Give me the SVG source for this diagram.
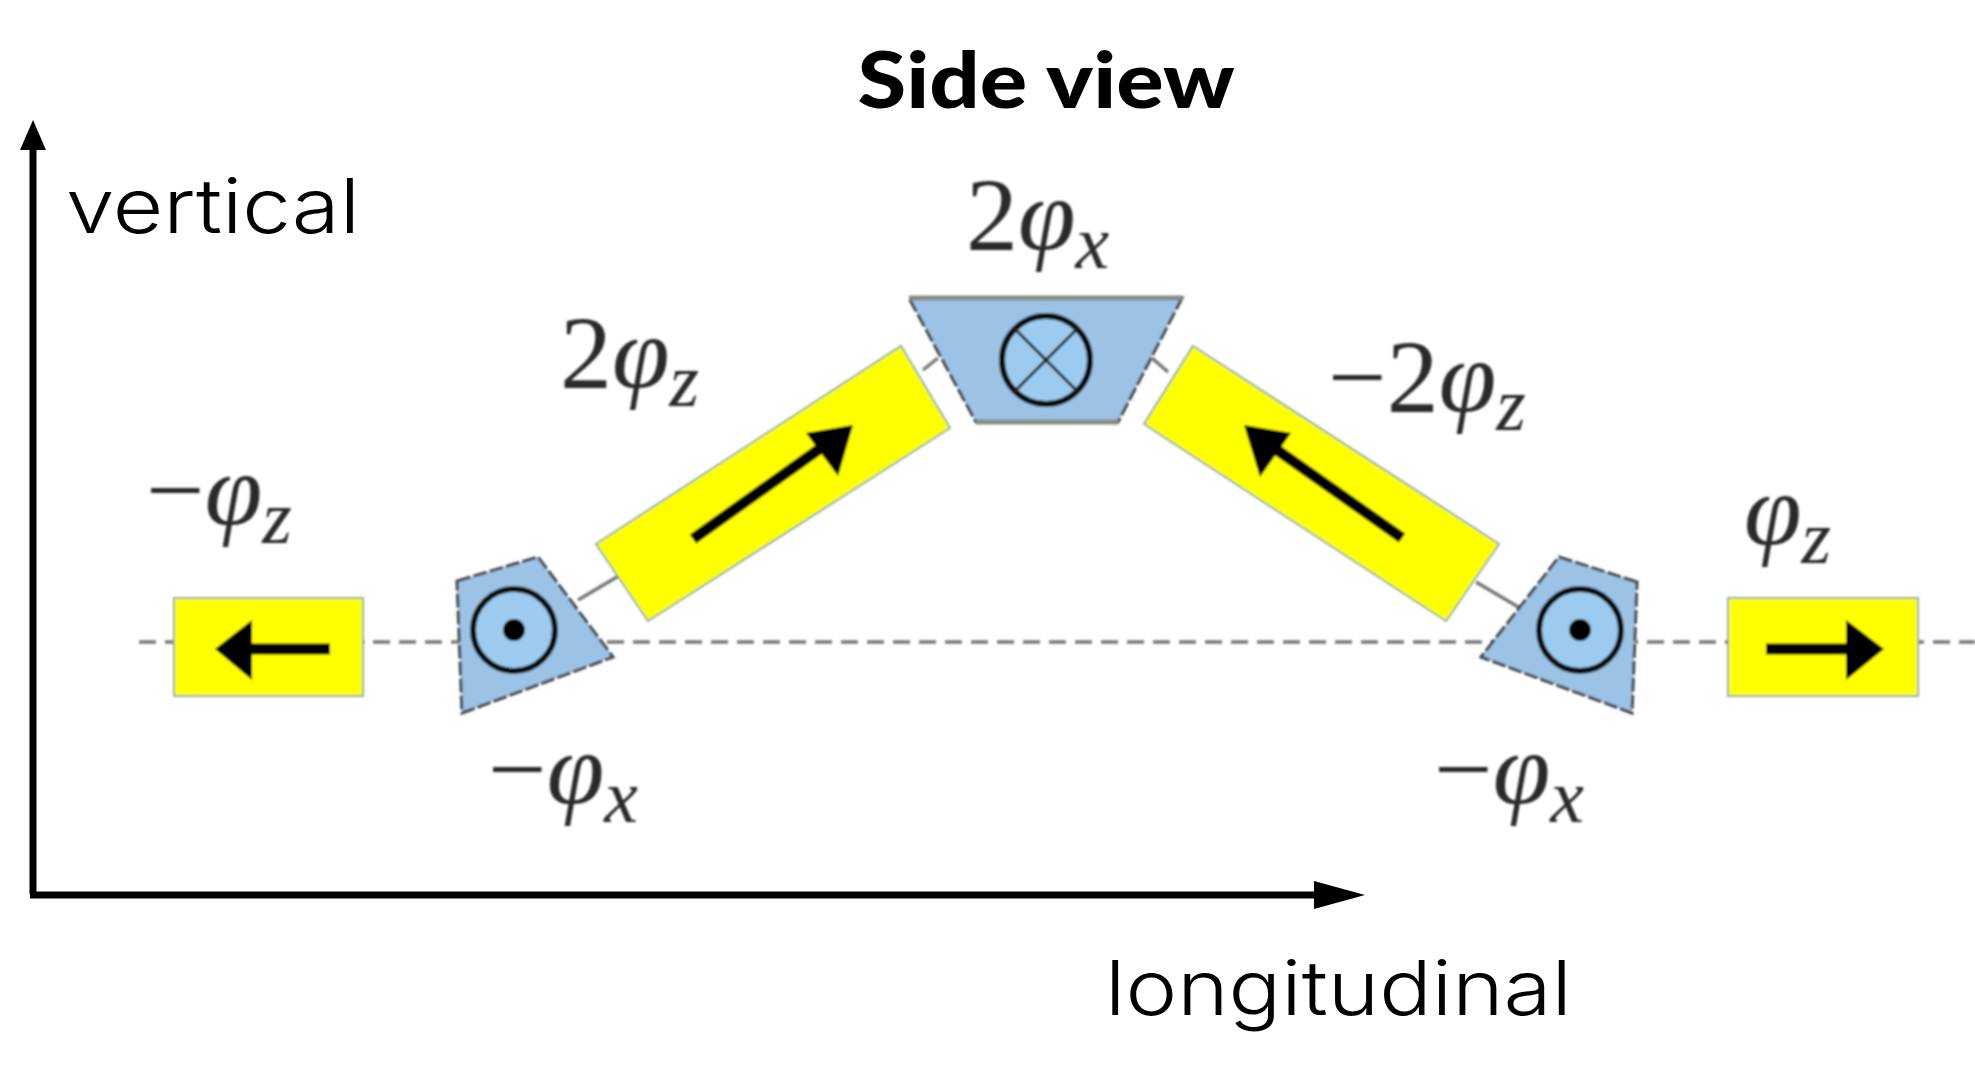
<svg xmlns="http://www.w3.org/2000/svg" width="1975" height="1086" viewBox="0 0 1975 1086">
<defs>
<style>
.y{fill:#ffff00;stroke:#8fb0a0;stroke-width:2}
.b{fill:#9cc3e6;stroke:#444;stroke-width:3;stroke-dasharray:14 3}
.bt{stroke:#888;stroke-width:5;fill:none}
.c{fill:#9dcbf0;stroke:#111;stroke-width:6}
.ar{stroke:#000;stroke-width:11;fill:none}
.ah{fill:#000}
.beam{stroke:#777;stroke-width:3.5;stroke-dasharray:17 9;fill:none}
.lk{stroke:#777;stroke-width:3.5;fill:none}
.ax{stroke:#000;stroke-width:7;fill:none}
.lab{font-family:"Inter","Liberation Sans",Arial,sans-serif;font-weight:300;font-size:76px;fill:#000}
.ttl{font-family:"Lato","Liberation Sans",sans-serif;font-weight:900;font-size:78px;fill:#000}
.m{font-family:"Liberation Serif","DejaVu Serif",serif;font-size:104px;fill:#2b2b2b}
.i{font-style:italic}
.s{font-style:italic;font-size:76px}
</style>
<filter id="soft" filterUnits="userSpaceOnUse" x="0" y="0" width="1975" height="1086"><feGaussianBlur stdDeviation="1.3"/></filter>
</defs>
<rect width="1975" height="1086" fill="#fff"/>
<g id="connectors">
<path class="beam" filter="url(#soft)" d="M139 642H1975"/>
<path class="lk" filter="url(#soft)" d="M578 600L622 574M923 370L938 358M1152 358L1168 372M1476 582L1520 608"/>
<path class="ax" d="M33 894V130"/>
<path class="ax" d="M30 895H1320"/>
<polygon class="ah" points="33,120 20,150 46,150"/>
<polygon class="ah" points="1365,895 1314,881 1314,909"/>
</g>
<g id="magnet-left-end" filter="url(#soft)">
<rect class="y" x="174" y="598" width="189" height="98"/>
<path class="ar" d="M330 649H250"/>
<polygon class="ah" points="215,649 252,620 252,680"/>
</g>
<g id="magnet-left-bend" filter="url(#soft)">
<polygon class="b" points="457,581 538,557 613,657 462,713"/>
<circle class="c" cx="514" cy="630" r="41"/>
<circle class="ah" cx="514" cy="630" r="11"/>
</g>
<g id="magnet-left-tilt" filter="url(#soft)">
<polygon class="y" points="596,544 901,346 950,428 648,621"/>
<path class="ar" d="M693 539L825 445"/>
<polygon class="ah" points="853,425 806,433 838,476"/>
</g>
<g id="magnet-center" filter="url(#soft)">
<polygon class="b" points="909,298 1182,298 1118,422 976,422"/>
<path class="bt" d="M909 298H1182M976 422H1118"/>
<circle class="c" cx="1046" cy="360" r="44"/>
<path d="M1015 329L1077 391M1077 329L1015 391" stroke="#222" stroke-width="3"/>
</g>
<g id="magnet-right-tilt" filter="url(#soft)">
<polygon class="y" points="1193,346 1499,544 1446,621 1144,424"/>
<path class="ar" d="M1402 538L1270 445"/>
<polygon class="ah" points="1244,425 1291,433 1260,477"/>
</g>
<g id="magnet-right-bend" filter="url(#soft)">
<polygon class="b" points="1637,582 1559,557 1481,657 1632,713"/>
<circle class="c" cx="1580" cy="630" r="41"/>
<circle class="ah" cx="1580" cy="630" r="11"/>
</g>
<g id="magnet-right-end" filter="url(#soft)">
<rect class="y" x="1728" y="598" width="190" height="98"/>
<path class="ar" d="M1766 649H1850"/>
<polygon class="ah" points="1884,649 1846,620 1846,680"/>
</g>
<g id="labels">
<text class="ttl" x="1046" y="108" text-anchor="middle" textLength="377" lengthAdjust="spacingAndGlyphs">Side view</text>
<text class="lab" x="66" y="233" textLength="294" lengthAdjust="spacingAndGlyphs">vertical</text>
<text class="lab" x="1105" y="1015" textLength="467" lengthAdjust="spacingAndGlyphs">longitudinal</text>
<g filter="url(#soft)">
<text class="m" x="966" y="250">2<tspan class="i">φ</tspan><tspan class="s" dy="18">x</tspan></text>
<text class="m" x="560" y="388">2<tspan class="i">φ</tspan><tspan class="s" dy="18">z</tspan></text>
<text class="m" x="1328" y="412">−2<tspan class="i">φ</tspan><tspan class="s" dy="18">z</tspan></text>
<text class="m" x="146" y="525">−<tspan class="i">φ</tspan><tspan class="s" dy="18">z</tspan></text>
<text class="m" x="1744" y="545"><tspan class="i">φ</tspan><tspan class="s" dy="18">z</tspan></text>
<text class="m" x="488" y="804">−<tspan class="i">φ</tspan><tspan class="s" dy="18">x</tspan></text>
<text class="m" x="1434" y="804">−<tspan class="i">φ</tspan><tspan class="s" dy="18">x</tspan></text>
</g>
</g>
</svg>
